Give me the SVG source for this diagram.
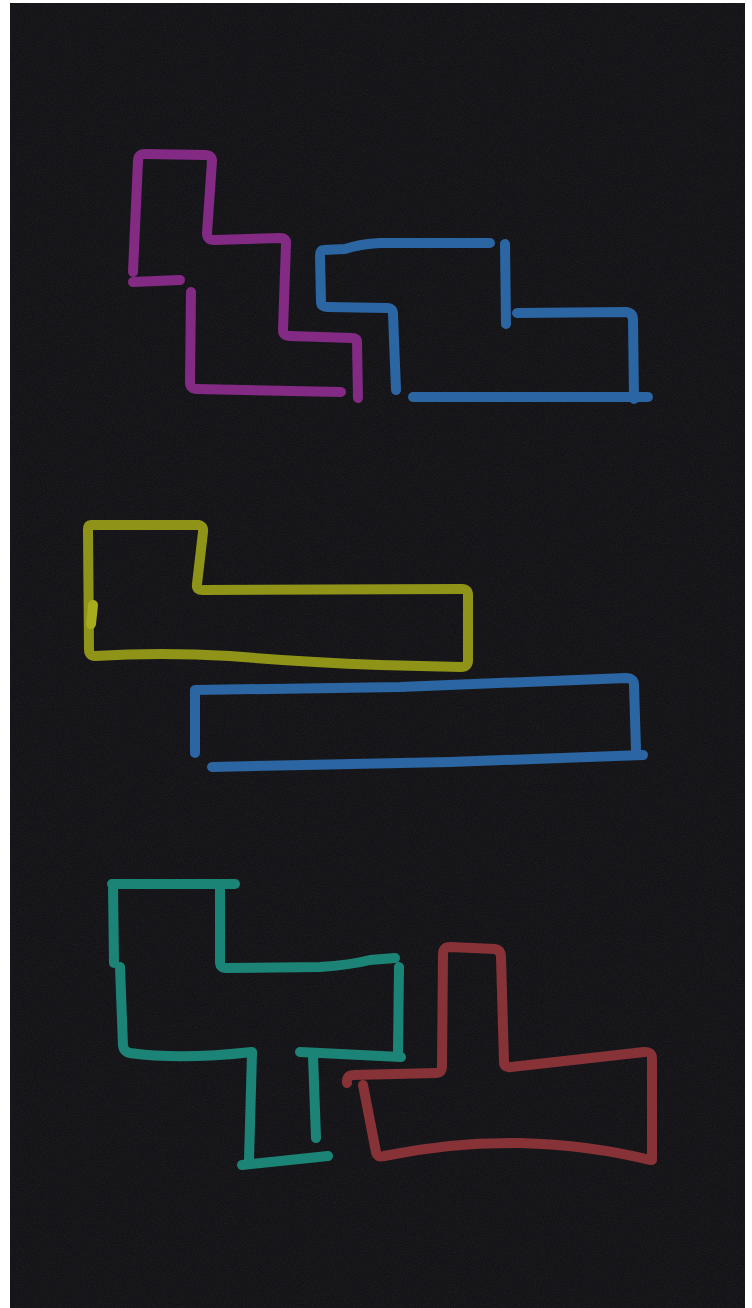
<svg xmlns="http://www.w3.org/2000/svg" width="752" height="1308" viewBox="0 0 752 1308">
  <defs>
    <filter id="grain" x="0" y="0" width="100%" height="100%">
      <feTurbulence type="fractalNoise" baseFrequency="0.9" numOctaves="2" seed="3" result="n"/>
      <feColorMatrix in="n" type="matrix" values="0 0 0 0 0.1  0 0 0 0 0.1  0 0 0 0 0.12  0 0 0 0.25 0"/>
    </filter>
  </defs>
  <style>
    .s { fill: none; stroke-width: 10; stroke-linecap: round; stroke-linejoin: round; }
    .mag { stroke: #822a84; }
    .blu { stroke: #2b65a2; }
    .yel { stroke: #8f9419; }
    .tea { stroke: #1c8476; }
    .red { stroke: #873236; }
  </style>
  <rect x="0" y="0" width="752" height="1308" fill="#ffffff"/>
  <rect x="10" y="3" width="735" height="1305" fill="#0d0d10"/>
  <rect x="10" y="3" width="735" height="1305" filter="url(#grain)"/>

  <g id="magenta-shape">
    <path class="s mag" d="M358,398 L357,342 Q357,338 352,338 L290,336 Q283,336 283,330 L286,244 Q287,238 280,238 L214,240 Q207,240 207,233 L212,161 Q212,155 205,155 L145,154 Q138,154 138,161 L133,272"/>
    <path class="s mag" d="M133,282 L180,280"/>
    <path class="s mag" d="M191,292 L190,382 Q190,389 197,389 L341,392"/>
  </g>

  <g id="blue-top-shape">
    <path class="s blu" d="M490,243 L380,243 Q360,244 345,249 L324,250 Q320,250 320,255 L321,302 Q321,307 327,307 L387,308 Q393,308 393,314 L396,390"/>
    <path class="s blu" d="M505,244 L506,324"/>
    <path class="s blu" d="M517,313 L626,312 Q633,313 633,320 L634,399"/>
    <path class="s blu" d="M413,397 L648,397"/>
  </g>

  <g id="yellow-shape">
    <path class="s yel" d="M91,525 L198,525 Q204,526 203,532 L197,584 Q196,591 204,590 L462,589 Q468,589 468,595 L468,660 Q468,667 461,667 L380,665 Q300,662 230,656 Q160,652 95,656 Q89,656 89,649 L88,530 Q88,525 91,525 Z"/>
    <path class="s" style="stroke:#a8ab1c" d="M93,605 L91,624"/>
  </g>

  <g id="blue-bar-shape">
    <path class="s blu" d="M195,753 L195,690 L400,687 L626,678 Q634,678 634,685 L636,750"/>
    <path class="s blu" d="M212,767 L450,762 L643,755"/>
  </g>

  <g id="teal-shape">
    <path class="s tea" d="M112,884 L235,884"/>
    <path class="s tea" d="M113,885 L114,963"/>
    <path class="s tea" d="M220,885 L220,962 Q220,968 226,968 L320,967 Q350,965 370,960 L395,958"/>
    <path class="s tea" d="M399,967 L398,1052"/>
    <path class="s tea" d="M120,967 L123,1046 Q124,1052 130,1053 Q180,1060 252,1052"/>
    <path class="s tea" d="M252,1053 L249,1160"/>
    <path class="s tea" d="M242,1165 L328,1156"/>
    <path class="s tea" d="M300,1052 L401,1057"/>
    <path class="s tea" d="M313,1056 L316,1138"/>
  </g>

  <g id="red-shape">
    <path class="s red" d="M347,1083 Q346,1075 354,1075 L436,1073 Q442,1073 442,1066 L443,954 Q443,947 450,947 L495,949 Q501,950 501,957 L504,1062 Q504,1068 511,1067 L644,1052 Q652,1051 652,1059 L652,1160"/>
    <path class="s red" d="M363,1085 L376,1152 Q377,1158 384,1156 Q450,1142 520,1143 Q590,1145 650,1160"/>
  </g>
</svg>
